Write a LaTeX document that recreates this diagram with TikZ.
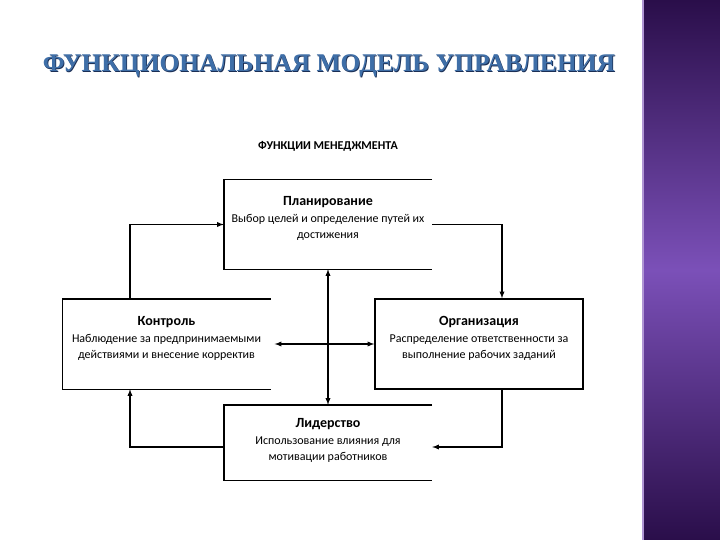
\documentclass[tikz,border=0pt]{standalone}
\usepackage{fontspec}
\setmainfont{Liberation Serif}
\newfontfamily\boxfont{Carlito}
\newfontfamily\titlefont{Liberation Serif}[BoldFont={Liberation Serif Bold}]
\usepackage{tikz}
\usetikzlibrary{arrows, positioning}

\newcommand{\headsize}{\bfseries\fontsize{14}{16}\selectfont}
\newcommand{\textsz}{\fontsize{12}{14}\selectfont}

\begin{document}
\begin{tikzpicture}[x=1pt, y=-1pt, font=\boxfont,
    fbox/.style={minimum width=208pt, inner sep=0pt},
    ftext/.style={inner sep=0pt, align=center},
    boxline/.style={line width=1.4pt},
    conn/.style={line width=1.3pt, -latex},
    dconn/.style={line width=1.3pt, latex-latex},
    titletext/.style={font={\titlefont\bfseries\fontsize{25.5}{26}\selectfont}}]
  \definecolor{titleblue}{HTML}{3F6FA8}
  \definecolor{titleedge}{HTML}{1B2F55}
  \definecolor{bardark}{HTML}{2A0E4A}
  \definecolor{barlight}{HTML}{7B50B8}

  \useasboundingbox (0,0) rectangle (720,540);
  \fill[white] (0,0) rectangle (720,540);
  \shade[top color=bardark, bottom color=bardark, middle color=barlight] (642,0) rectangle (720,540);
  \fill[barlight!60!white] (642,0) rectangle (643.5,540);

  \node[titletext, text=titleedge] at (329.8,66.8) {ФУНКЦИОНАЛЬНАЯ МОДЕЛЬ УПРАВЛЕНИЯ};
  \node[titletext, text=titleblue] (title) at (329,66) {ФУНКЦИОНАЛЬНАЯ МОДЕЛЬ УПРАВЛЕНИЯ};
  \node[font=\boxfont\bfseries\fontsize{12}{12}\selectfont] (sub) at (328,146) {ФУНКЦИИ МЕНЕДЖМЕНТА};

  \node[fbox, minimum height=89pt] (plan) at (328,224.5) {};
  \node[fbox, minimum height=90pt] (ctrl) at (166.5,344) {};
  \node[fbox, minimum height=90pt, draw, boxline] (org) at (479,344) {};
  \node[fbox, minimum height=75pt] (lead) at (328,442.5) {};

  \node[ftext] (plantext) at ([yshift=6pt]plan.center) {\headsize Планирование\\[5pt]
    \textsz Выбор целей и определение путей их\\[4pt]\textsz достижения};
  \node[ftext] (ctrltext) at ([yshift=6pt]ctrl.center) {\headsize Контроль\\[5pt]
    \textsz Наблюдение за предпринимаемыми\\[4pt]\textsz действиями и внесение корректив};
  \node[ftext] (orgtext) at ([yshift=6pt]org.center) {\headsize Организация\\[5pt]
    \textsz Распределение ответственности за\\[4pt]\textsz выполнение рабочих заданий};
  \node[ftext] (leadtext) at ([yshift=2pt]lead.center) {\headsize Лидерство\\[5pt]
    \textsz Использование влияния для\\[4pt]\textsz мотивации работников};

  % open frames
  \draw[boxline] (plan.north east) -- (plan.north west) -- (plan.south west) -- (plan.south east);
  \draw[boxline] (ctrl.north east) -- (ctrl.north west) -- (ctrl.south west) -- (ctrl.south east);
  \draw[boxline] (lead.north east) -- (lead.north west) -- (lead.south west) -- (lead.south east);

  \coordinate (lx) at (130,0);
  \coordinate (rx) at (502,0);
  \coordinate (ly) at (0,447);

  \draw[conn] (ctrl.north -| lx) |- (plan.west);
  \draw[conn] (plan.east) -| (rx |- org.north);
  \draw[conn] (rx |- org.south) |- (lead.east |- ly);
  \draw[conn] (lead.west |- ly) -| (lx |- ctrl.south);
  \draw[dconn] (plan.south) -- (lead.north);
  \draw[dconn, shorten <=4pt] (ctrl.east) -- (org.west);
\end{tikzpicture}
\end{document}
